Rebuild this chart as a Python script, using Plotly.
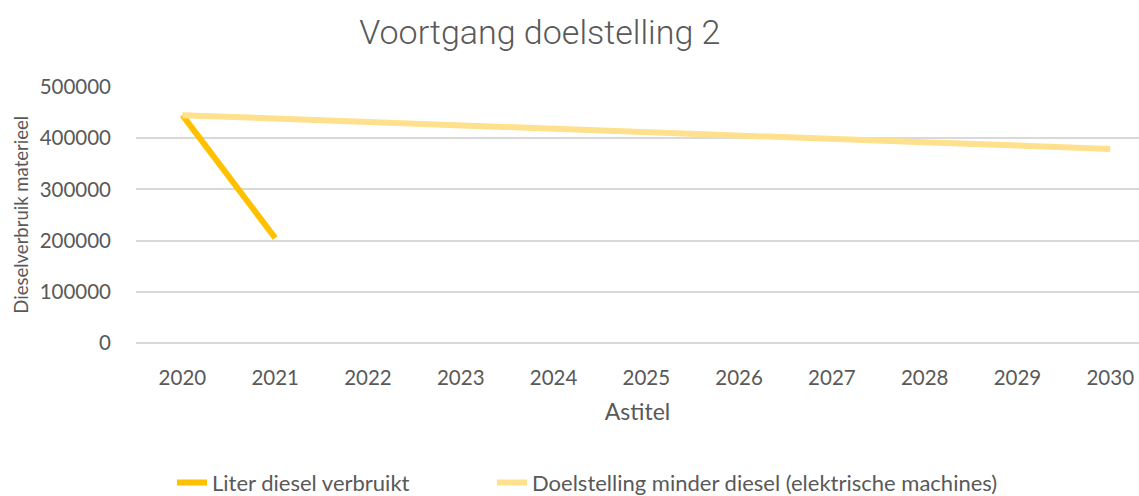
import plotly.graph_objects as go

years = ["2020", "2021", "2022", "2023", "2024", "2025", "2026", "2027", "2028", "2029", "2030"]
verbruikt_years = ["2020", "2021"]
verbruikt = [445000, 205000]
doelstelling = [445000, 438000, 431500, 425000, 418000, 411500, 405000, 398500, 392000, 385500, 379000]

fig = go.Figure()
fig.add_trace(go.Scatter(
    x=verbruikt_years, y=verbruikt, mode="lines", name="Liter diesel verbruikt",
    line=dict(color="#FFC000", width=6), legend="legend"))
fig.add_trace(go.Scatter(
    x=years, y=doelstelling, mode="lines",
    name="Doelstelling minder diesel (elektrische machines)",
    line=dict(color="#FFE08C", width=6), legend="legend2"))

leg_common = dict(orientation="h", xref="container", xanchor="left",
                  y=0.027, yref="container", yanchor="middle",
                  font=dict(size=22, color="#595959"), bgcolor="rgba(0,0,0,0)")

fig.update_layout(
    width=1139, height=496,
    paper_bgcolor="white", plot_bgcolor="white",
    margin=dict(l=136, r=0, t=87, b=153),
    font=dict(family="Lato, Carlito, sans-serif", color="#595959", size=20),
    title=dict(text="Voortgang doelstelling 2", x=0.474, xref="container", xanchor="center",
               y=0.935, yref="container", yanchor="middle",
               font=dict(family="Roboto, sans-serif", size=34, color="#595959", weight=300)),
    showlegend=True,
    legend=dict(x=(214 - 42) / 1139, **leg_common),
    legend2=dict(x=(534 - 42) / 1139, **leg_common),
    xaxis=dict(type="category", categoryorder="array", categoryarray=years,
               range=[-0.5, 10.31], showgrid=False, showline=False, ticks="",
               ticklabelstandoff=20,
               title=dict(text="Astitel", standoff=16, font=dict(size=23, color="#595959")),
               tickfont=dict(size=20.5, color="#595959")),
    yaxis=dict(range=[0, 500000], dtick=100000, tickformat="d", showgrid=True,
               gridcolor="#D9D9D9", gridwidth=1.5, zeroline=True, zerolinecolor="#D9D9D9",
               zerolinewidth=1.5, showline=False, ticks="", ticklabelstandoff=24,
               tickfont=dict(size=20.5, color="#595959")),
    annotations=[dict(text="Dieselverbruik materieel", textangle=-90, showarrow=False,
                      xref="paper", x=-0.115, xanchor="center",
                      yref="paper", y=0.5, yanchor="middle",
                      font=dict(size=18.5, color="#595959"))],
)

fig.write_html("out.html", post_script="document.body.style.margin='0';",
               config={"displayModeBar": False})
